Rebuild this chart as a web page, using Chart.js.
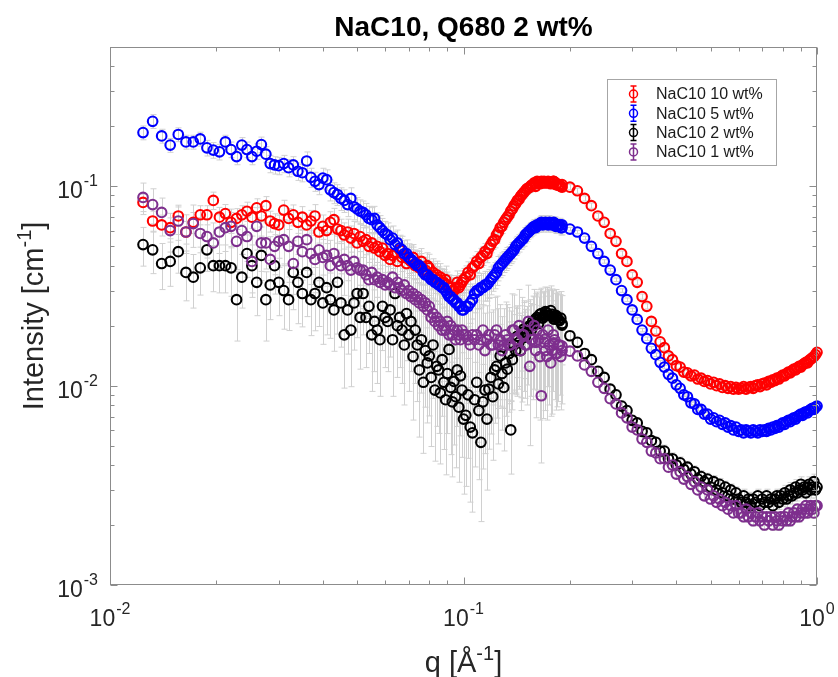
<!DOCTYPE html>
<html>
<head>
<meta charset="utf-8">
<title>NaC10, Q680 2 wt%</title>
<script src="https://cdn.jsdelivr.net/npm/chart.js@4.4.1/dist/chart.umd.min.js"></script>
<style>
  html, body { margin: 0; padding: 0; background: #fff; }
  canvas { display: block; }
</style>
</head>
<body>
<canvas id="saxsChart" width="838" height="677"></canvas>
<script>
const FONT = '"Liberation Sans", Helvetica, Arial, sans-serif';

// q grid [1/A]: low-q setting up to 0.19, then the high-q setting (overlaps at the peak)
const qValues = [
  0.0124, 0.0132, 0.0140, 0.0148, 0.0156, 0.0164, 0.0172, 0.0180, 0.0188, 0.0196,
  0.0204, 0.0212, 0.0220, 0.0228, 0.0236, 0.0244, 0.0252, 0.0260, 0.0268, 0.0276,
  0.0284, 0.0292, 0.0300,
  0.031, 0.032, 0.033, 0.034, 0.035, 0.036, 0.037, 0.038, 0.039, 0.040,
  0.041, 0.042, 0.043, 0.044, 0.045, 0.046, 0.047, 0.048, 0.049, 0.050,
  0.051, 0.052, 0.053, 0.054, 0.055, 0.056, 0.057, 0.058, 0.059, 0.060,
  0.061, 0.062, 0.063, 0.064, 0.065, 0.066, 0.067, 0.068, 0.069, 0.070,
  0.071, 0.072, 0.073, 0.074, 0.075, 0.076, 0.077, 0.078, 0.079, 0.080,
  0.081, 0.082, 0.083, 0.084, 0.085, 0.086, 0.087, 0.088, 0.089, 0.090,
  0.091, 0.092, 0.093, 0.094, 0.095, 0.096, 0.097, 0.098, 0.099, 0.100,
  0.1015, 0.1030, 0.1045, 0.1060, 0.1075, 0.1090, 0.1105, 0.1120, 0.1135, 0.1150,
  0.1165, 0.1180, 0.1195, 0.1210, 0.1225, 0.1240, 0.1255, 0.1270, 0.1285, 0.1300,
  0.1315, 0.1330, 0.1345, 0.1360, 0.1375, 0.1390, 0.1405, 0.1420, 0.1435, 0.1450,
  0.1465, 0.1480, 0.1495, 0.1510, 0.1525, 0.1540, 0.1555, 0.1570, 0.1585, 0.1600,
  0.1615, 0.1630, 0.1645, 0.1660, 0.1675, 0.1690, 0.1705, 0.1720, 0.1735, 0.1750,
  0.1765, 0.1780, 0.1795, 0.1810, 0.1825, 0.1840, 0.1855, 0.1870, 0.1885, 0.1900,
  // high-q setting
  0.16, 0.17, 0.18, 0.19, 0.20, 0.21, 0.22, 0.23, 0.24, 0.25,
  0.26, 0.27, 0.28, 0.29, 0.30, 0.31, 0.32, 0.33, 0.34, 0.35,
  0.36, 0.37, 0.38, 0.39, 0.40, 0.41, 0.42, 0.43, 0.44, 0.45,
  0.46, 0.47, 0.48, 0.49, 0.50, 0.51, 0.52, 0.53, 0.54, 0.55,
  0.56, 0.57, 0.58, 0.59, 0.60,
  0.61, 0.62, 0.63, 0.64, 0.65, 0.66, 0.67, 0.68, 0.69, 0.70,
  0.71, 0.72, 0.73, 0.74, 0.75, 0.76, 0.77, 0.78, 0.79, 0.80,
  0.81, 0.82, 0.83, 0.84, 0.85, 0.86, 0.87, 0.88, 0.89, 0.90,
  0.91, 0.92, 0.93, 0.94, 0.95, 0.96, 0.97, 0.98, 0.99, 1.00
];

// intensity [1/cm], same order as qValues
const int10 = [
  .083, .067, .064, .062, .071, .059, .066, .072, .072, .085,
  .070, .073, .066, .069, .072, .075, .070, .078, .071, .080,
  .067, .065, .064,
  .076, .069, .072, .066, .070, .064, .067, .071, .059, .063,
  .060, .066, .068, .061, .060, .057, .059, .055, .058, .052,
  .056, .053, .054, .050, .052, .049, .050, .047, .049, .045,
  .046, .043, .045, .046, .042, .048, .044, .045, .041, .043,
  .042, .044, .040, .041, .039, .042, .038, .038, .040, .039,
  .036, .037, .035, .036, .034, .035, .033, .033, .034, .032,
  .031, .031, .030, .030, .031, .033, .031, .032, .033, .034,
  .035, .037, .036, .039, .040, .042, .041, .044, .045, .047,
  .046, .049, .051, .053, .054, .057, .059, .062, .063, .066,
  .068, .070, .072, .075, .077, .080, .082, .085, .086, .089,
  .091, .093, .095, .097, .098, .099, .101, .102, .104, .103,
  .106, .105, .103, .106, .104, .106, .105, .104, .106, .105,
  .103, .104, .106, .105, .102, .103, .101, .102, .100, .099,
  .100, .104, .106, .102, .099, .095, .087, .080, .071, .066,
  .058, .053, .046, .042, .036, .033, .028, .025, .021, .0188,
  .0166, .0155, .0141, .0135, .0126, .0124, .0117, .0116, .0112, .0113,
  .0108, .0109, .0105, .0106, .0102, .0104, .0100, .0102, .0098, .0100,
  .0097, .0099, .0096, .0098, .0096,
  .0097, .0099, .0096, .0098, .0099, .0097, .0100, .0101, .0099, .0102,
  .0103, .0101, .0105, .0104, .0107, .0106, .0109, .0108, .0111, .0113,
  .0112, .0115, .0117, .0116, .0119, .0121, .0120, .0123, .0125, .0124,
  .0127, .0129, .0131, .0130, .0134, .0136, .0138, .0140, .0143, .0147
];
const int5 = [
  .186, .212, .179, .161, .182, .167, .167, .173, .156, .152,
  .149, .167, .153, .141, .161, .153, .141, .150, .162, .145,
  .130, .128, .127,
  .130, .124, .128, .119, .117, .134, .111, .106, .102, .110,
  .108, .096, .093, .091, .087, .085, .081, .087, .079, .077,
  .075, .074, .072, .069, .068, .069, .064, .062, .060, .058,
  .057, .054, .055, .051, .052, .049, .048, .046, .046, .044,
  .043, .042, .041, .040, .040, .039, .037, .036, .036, .035,
  .034, .034, .033, .033, .032, .032, .031, .031, .030, .029,
  .028, .028, .027, .027, .026, .026, .025, .025, .024, .024,
  .025, .025, .026, .027, .029, .030, .030, .031, .031, .032,
  .032, .033, .034, .035, .036, .037, .039, .040, .041, .042,
  .043, .044, .045, .046, .047, .048, .050, .051, .052, .053,
  .054, .055, .057, .058, .059, .060, .061, .062, .063, .063,
  .064, .064, .065, .066, .064, .065, .066, .065, .064, .066,
  .065, .064, .065, .065, .063, .064, .063, .064, .062, .062,
  .062, .065, .066, .064, .061, .059, .055, .050, .046, .042,
  .038, .034, .030, .027, .024, .0215, .0190, .0172, .0154, .0143,
  .0131, .0124, .0114, .0109, .0101, .0097, .0090, .0088, .0082, .0081,
  .0076, .0076, .0072, .0072, .0068, .0069, .0066, .0067, .0064, .0065,
  .0062, .0063, .0060, .0062, .0059,
  .0060, .0058, .0060, .0059, .0058, .0060, .0059, .0058, .0060, .0059,
  .0060, .0059, .0061, .0060, .0062, .0061, .0063, .0062, .0064, .0065,
  .0064, .0066, .0067, .0066, .0068, .0069, .0068, .0070, .0071, .0072,
  .0071, .0073, .0074, .0073, .0075, .0076, .0077, .0076, .0078, .0079
];
const int2 = [
  .051, .048, .041, .042, .047, .037, .035, .039, .048, .040,
  .040, .040, .039, .027, .035, .046, .040, .033, .045, .027,
  .032, .040, .033,
  .030, .027, .037, .033, .029, .037, .027, .029, .033, .026,
  .031, .027, .024, .033, .026, .018, .024, .019, .026, .029,
  .022, .029, .022, .025, .018, .021, .019, .017, .025, .022,
  .021, .024, .017, .029, .020, .022, .019, .016, .023, .018,
  .021, .014, .019, .016, .012, .017, .0104, .015, .013, .0141,
  .011, .016, .0095, .0125, .012, .0092, .0135, .0104, .0085, .0115,
  .0152, .0098, .0083, .0105, .0088, .0120, .0078, .0112, .0095, .0068,
  .0071, .0090, .0062, .0058, .0085, .0104, .0075, .0052, .0083, .0095,
  .0068, .0096, .0110, .0088, .0120, .0125, .0102, .0141, .0115, .0098,
  .0130, .0121, .0145, .0060, .0135, .0160, .0150, .0177, .0165, .0150,
  .0185, .0192, .0175, .0185, .0195, .0200, .0190, .0210, .0205, .0216,
  .0220, .0205, .0228, .0230, .0218, .0222, .0235, .0232, .0226, .0225,
  .0238, .0228, .0222, .0216, .0225, .0220, .0214, .0212, .0218, .0205,
  .0215, .0226, .0216, .0201, .0178, .0165, .0145, .0135, .0118, .0110,
  .0096, .0090, .0079, .0075, .0067, .0065, .0059, .0058, .0053, .0052,
  .0047, .0047, .0043, .0043, .0040, .0041, .0038, .0039, .0036, .0037,
  .0034, .0035, .0033, .0034, .0031, .0033, .0030, .0032, .0029, .0031,
  .0028, .0030, .0027, .0029, .0027,
  .0026, .0028, .0026, .0027, .0025, .0027, .0026, .0028, .0025, .0027,
  .0026, .0028, .0026, .0027, .0025, .0027, .0028, .0026, .0028, .0027,
  .0029, .0027, .0028, .0030, .0028, .0029, .0031, .0029, .0030, .0032,
  .0030, .0031, .0029, .0031, .0032, .0030, .0031, .0033, .0030, .0031
];
const int1 = [
  .088, .081, .074, .060, .067, .059, .065, .058, .056, .052,
  .059, .062, .063, .053, .060, .056, .042, .063, .052, .052,
  .043, .050, .053,
  .054, .050, .041, .053, .047, .054, .046, .043, .048, .044,
  .045, .040, .046, .042, .040, .043, .040, .038, .042, .039,
  .038, .038, .036, .034, .037, .034, .035, .033, .034, .032,
  .033, .032, .035, .031, .033, .031, .030, .032, .029, .030,
  .028, .029, .027, .028, .026, .027, .025, .026, .024, .025,
  .022, .023, .021, .022, .020, .021, .019, .020, .019, .021,
  .018, .020, .018, .019, .017, .019, .018, .017, .019, .018,
  .018, .017, .016, .018, .017, .018, .016, .017, .019, .015,
  .017, .018, .016, .016, .018, .019, .016, .017, .015, .016,
  .018, .017, .016, .016, .019, .019, .017, .017, .020, .015,
  .018, .018, .016, .016, .021, .0125, .017, .017, .020, .015,
  .019, .017, .014, .0089, .018, .0165, .015, .014, .019, .016,
  .013, .015, .018, .017, .0145, .0145, .016, .016, .014, .015,
  .0165, .0171, .0164, .0158, .0149, .0141, .0127, .0118, .0104, .0097,
  .0086, .0081, .0073, .0069, .0062, .0060, .0054, .0052, .0047, .0046,
  .0043, .0043, .0039, .0040, .0036, .0037, .0034, .0035, .0032, .0033,
  .0030, .0031, .0028, .0030, .0027, .0028, .0026, .0027, .0025, .0026,
  .0024, .0025, .0023, .0025, .0023,
  .0023, .0022, .0024, .0022, .0023, .0021, .0022, .0023, .0021, .0022,
  .0020, .0022, .0021, .0022, .0020, .0022, .0021, .0020, .0022, .0021,
  .0022, .0021, .0023, .0021, .0022, .0023, .0022, .0024, .0022, .0023,
  .0024, .0023, .0025, .0023, .0024, .0025, .0024, .0023, .0025, .0025
];

// relative errors in %, same order as qValues
const err10 = [
  10, 12, 12, 12, 11, 13, 12, 11, 11, 10,
  12, 11, 12, 12, 11, 11, 12, 11, 12, 11,
  12, 12, 12,
  12, 12, 12, 12, 13, 12, 13, 14, 12, 14,
  14, 13, 14, 15, 14, 15, 16, 15, 15, 16,
  16, 17, 16, 17, 17, 18, 17, 18, 18, 18,
  14, 13, 14, 13, 14, 14, 15, 14, 15, 15,
  15, 16, 15, 16, 16, 16, 15, 16, 16, 17,
  16, 17, 17, 17, 16, 17, 17, 16, 17, 16,
  16, 15, 16, 15, 15, 14, 15, 14, 14, 14,
  14, 13, 13, 12, 12, 12, 11, 11, 11, 10,
  10, 10, 9, 9, 9, 9, 8, 8, 8, 8,
  8, 7, 7, 7, 7, 7, 7, 6, 6, 6,
  6, 6, 6, 6, 6, 6, 5, 5, 5, 5,
  5, 5, 5, 5, 5, 5, 5, 5, 5, 5,
  5, 5, 5, 5, 5, 5, 5, 5, 5, 5,
  3, 3, 3, 3, 3, 3, 3, 3, 3, 3,
  3, 3, 3, 3, 3, 3, 3, 3, 3, 3,
  3, 3, 3, 3, 3, 3, 3, 3, 3, 3,
  3, 3, 3, 3, 3, 3, 3, 3, 3, 3,
  3, 3, 3, 3, 3,
  4, 4, 4, 4, 4, 4, 4, 4, 4, 4,
  4, 4, 4, 4, 4, 4, 4, 4, 4, 4,
  4, 4, 4, 4, 4, 4, 4, 4, 4, 4,
  4, 4, 4, 4, 4, 4, 4, 4, 4, 4
];
const err5 = [
  8, 8, 8, 8, 8, 8, 8, 8, 9, 9,
  9, 8, 9, 9, 9, 9, 9, 9, 9, 9,
  10, 10, 10,
  10, 10, 10, 10, 10, 11, 11, 11, 11, 12,
  12, 12, 12, 12, 13, 13, 13, 13, 14, 14,
  14, 14, 14, 15, 15, 15, 15, 15, 15, 15,
  15, 16, 15, 16, 16, 16, 17, 16, 17, 17,
  17, 18, 17, 18, 18, 18, 19, 18, 19, 19,
  19, 20, 19, 20, 20, 20, 21, 20, 21, 21,
  21, 22, 21, 22, 22, 22, 22, 22, 22, 22,
  22, 21, 21, 20, 20, 19, 19, 18, 18, 17,
  17, 16, 16, 15, 15, 14, 14, 13, 13, 12,
  12, 12, 11, 11, 11, 10, 10, 10, 10, 9,
  9, 9, 9, 9, 8, 8, 8, 8, 8, 8,
  8, 8, 8, 8, 8, 8, 8, 8, 8, 8,
  8, 8, 8, 8, 8, 8, 8, 8, 8, 8,
  2, 2, 2, 2, 2, 2, 2, 2, 2, 2,
  2, 2, 2, 2, 2, 2, 2, 2, 2, 2,
  2, 2, 2, 2, 2, 2, 2, 2, 2, 2,
  2, 2, 2, 2, 2, 2, 2, 2, 2, 2,
  2, 2, 2, 2, 2,
  3, 3, 3, 3, 3, 3, 3, 3, 3, 3,
  3, 3, 3, 3, 3, 3, 3, 3, 3, 3,
  3, 3, 3, 3, 3, 3, 3, 3, 3, 3,
  3, 3, 3, 3, 3, 3, 3, 3, 3, 3
];
const err2 = [
  22, 24, 26, 25, 22, 28, 30, 27, 22, 26,
  27, 27, 28, 38, 30, 24, 27, 32, 25, 38,
  33, 28, 32,
  36, 30, 35, 38, 32, 40, 34, 35, 40, 38,
  42, 36, 38, 45, 40, 46, 40, 48, 42, 40,
  45, 38, 44, 42, 48, 44, 46, 48, 40, 44,
  44, 42, 48, 38, 45, 44, 46, 50, 42, 48,
  44, 52, 46, 48, 54, 46, 56, 48, 50, 50,
  55, 46, 56, 50, 52, 56, 48, 54, 58, 50,
  44, 54, 58, 52, 56, 48, 58, 50, 54, 58,
  56, 52, 58, 60, 54, 50, 55, 60, 54, 52,
  56, 50, 48, 52, 46, 45, 50, 44, 48, 52,
  46, 48, 44, 40, 44, 42, 40, 38, 40, 42,
  36, 36, 38, 35, 36, 35, 36, 34, 36, 34,
  34, 36, 33, 34, 35, 34, 33, 34, 35, 34,
  33, 34, 35, 34, 35, 34, 36, 35, 36, 38,
  6, 6, 6, 6, 6, 6, 6, 6, 6, 6,
  6, 6, 6, 6, 6, 6, 6, 6, 6, 6,
  7, 7, 7, 7, 7, 7, 7, 7, 7, 7,
  7, 7, 7, 7, 7, 7, 7, 7, 7, 7,
  7, 7, 7, 7, 7,
  8, 8, 8, 8, 8, 8, 8, 8, 8, 8,
  8, 8, 8, 8, 8, 8, 8, 8, 8, 8,
  9, 9, 9, 9, 9, 9, 9, 9, 9, 9,
  9, 9, 9, 9, 9, 9, 9, 9, 9, 9
];
const err1 = [
  18, 20, 18, 22, 20, 22, 24, 20, 22, 26,
  22, 24, 22, 28, 24, 25, 34, 24, 28, 26,
  30, 28, 26,
  26, 34, 30, 32, 28, 30, 30, 32, 30, 32,
  30, 34, 32, 34, 32, 34, 36, 34, 36, 36,
  34, 36, 38, 36, 36, 38, 36, 38, 38, 36,
  36, 34, 38, 36, 38, 40, 38, 40, 42, 40,
  42, 40, 44, 42, 44, 42, 46, 44, 46, 44,
  46, 48, 46, 48, 48, 50, 48, 50, 48, 50,
  48, 50, 52, 50, 52, 50, 52, 54, 52, 50,
  50, 52, 48, 50, 54, 48, 52, 46, 50, 54,
  48, 52, 46, 50, 54, 48, 52, 50, 48, 52,
  46, 50, 54, 48, 52, 50, 46, 48, 52, 50,
  54, 48, 46, 50, 52, 60, 48, 50, 52, 54,
  50, 48, 52, 54, 62, 48, 50, 52, 48, 50,
  46, 52, 48, 50, 48, 46, 48, 44, 46, 46,
  5, 5, 5, 5, 5, 5, 5, 5, 5, 5,
  5, 5, 5, 5, 5, 5, 5, 5, 5, 5,
  5, 5, 5, 5, 5, 5, 5, 5, 5, 5,
  5, 5, 5, 5, 5, 5, 5, 5, 5, 5,
  5, 5, 5, 5, 5,
  6, 6, 6, 6, 6, 6, 6, 6, 6, 6,
  6, 6, 6, 6, 6, 6, 6, 6, 6, 6,
  6, 6, 6, 6, 6, 6, 6, 6, 6, 6,
  6, 6, 6, 6, 6, 6, 6, 6, 6, 6
];

const seriesNames = ["NaC10 10 wt%", "NaC10 5 wt%", "NaC10 2 wt%", "NaC10 1 wt%"];
const seriesColors = ["#ff0000", "#0000ff", "#000000", "#7e2f8e"];
const seriesInt = [int10, int5, int2, int1];
const seriesErr = [err10, err5, err2, err1];

const xTickExp = [-2, -1, 0];
const yTickExp = [-3, -2, -1];

function toPoints(vals, errs) {
  return qValues.map((q, i) => ({ x: q, y: vals[i], err: vals[i] * errs[i] / 100 }));
}

// "10" with a raised exponent
function drawPower(ctx, exp, x, baseline, align) {
  const base = "10", sup = String(exp);
  ctx.font = `23px ${FONT}`;
  const wb = ctx.measureText(base).width;
  ctx.font = `16px ${FONT}`;
  const ws = ctx.measureText(sup).width;
  const left = align === "right" ? x - wb - ws - 1 : x - (wb + ws + 1) / 2;
  ctx.textAlign = "left";
  ctx.textBaseline = "alphabetic";
  ctx.font = `23px ${FONT}`;
  ctx.fillText(base, left, baseline);
  ctx.font = `16px ${FONT}`;
  ctx.fillText(sup, left + wb + 1, baseline - 12);
}

// text with a superscript part, centred on x
function supText(ctx, pre, sup, post, size) {
  ctx.font = `${size}px ${FONT}`;
  const w1 = ctx.measureText(pre).width, w3 = ctx.measureText(post).width;
  ctx.font = `${Math.round(size * 0.68)}px ${FONT}`;
  const w2 = ctx.measureText(sup).width;
  let x = -(w1 + w2 + w3) / 2;
  ctx.textAlign = "left";
  ctx.font = `${size}px ${FONT}`;
  ctx.fillText(pre, x, 0);
  x += w1;
  ctx.font = `${Math.round(size * 0.68)}px ${FONT}`;
  ctx.fillText(sup, x, -Math.round(size * 0.42));
  x += w2;
  ctx.font = `${size}px ${FONT}`;
  ctx.fillText(post, x, 0);
}

// grey vertical error bars under all markers
const errorBars = {
  id: "errorBars",
  beforeDatasetsDraw(chart) {
    const { ctx, chartArea: a, scales: { x, y } } = chart;
    ctx.save();
    ctx.beginPath();
    ctx.rect(a.left, a.top, a.width, a.height);
    ctx.clip();
    ctx.strokeStyle = "#d0d0d0";
    ctx.lineWidth = 1;
    chart.data.datasets.forEach(ds => {
      ds.data.forEach(p => {
        const px = Math.round(x.getPixelForValue(p.x)) + 0.5;
        const hi = y.getPixelForValue(p.y + p.err);
        const lo = p.y - p.err > 0 ? y.getPixelForValue(p.y - p.err) : a.bottom;
        ctx.beginPath();
        ctx.moveTo(px, hi); ctx.lineTo(px, lo);
        ctx.moveTo(px - 3, hi); ctx.lineTo(px + 3, hi);
        ctx.moveTo(px - 3, lo); ctx.lineTo(px + 3, lo);
        ctx.stroke();
      });
    });
    ctx.restore();
  }
};

// box, inward log ticks, labels and title
const axesFrame = {
  id: "axesFrame",
  afterDatasetsDraw(chart) {
    const { ctx, chartArea: a, scales: { x, y } } = chart;
    ctx.save();
    ctx.strokeStyle = "#8c8c8c";
    ctx.lineWidth = 1;
    const L = Math.round(a.left) + 0.5, R = Math.round(a.right) - 0.5;
    const T = Math.round(a.top) + 0.5, B = Math.round(a.bottom) - 0.5;
    ctx.strokeRect(L, T, R - L, B - T);

    ctx.beginPath();
    for (let e = -2; e <= 0; e++) {
      for (let k = 1; k <= 9; k++) {
        const v = k * Math.pow(10, e);
        if (v < x.min || v > x.max) continue;
        const len = k === 1 ? 7 : 4;
        const px = Math.round(x.getPixelForValue(v)) + 0.5;
        ctx.moveTo(px, B); ctx.lineTo(px, B - len);
        ctx.moveTo(px, T); ctx.lineTo(px, T + len);
      }
    }
    for (let e = -3; e <= -1; e++) {
      for (let k = 1; k <= 9; k++) {
        const v = k * Math.pow(10, e);
        if (v < y.min || v > y.max) continue;
        const len = k === 1 ? 7 : 4;
        const py = Math.round(y.getPixelForValue(v)) + 0.5;
        ctx.moveTo(L, py); ctx.lineTo(L + len, py);
        ctx.moveTo(R, py); ctx.lineTo(R - len, py);
      }
    }
    ctx.stroke();

    ctx.fillStyle = "#262626";
    xTickExp.forEach(e => drawPower(ctx, e, x.getPixelForValue(Math.pow(10, e)), a.bottom + 41, "center"));
    yTickExp.forEach(e => drawPower(ctx, e, a.left - 12, y.getPixelForValue(Math.pow(10, e)) + 12, "right"));

    ctx.save();
    ctx.translate((a.left + a.right) / 2, a.bottom + 87);
    supText(ctx, "q [\u00c5", "-1", "]", 29);
    ctx.restore();

    ctx.save();
    ctx.translate(43, (a.top + a.bottom) / 2);
    ctx.rotate(-Math.PI / 2);
    supText(ctx, "Intensity [cm", "-1", "]", 29);
    ctx.restore();

    ctx.fillStyle = "#000";
    ctx.font = `bold 28px ${FONT}`;
    ctx.textAlign = "center";
    ctx.fillText("NaC10, Q680 2 wt%", (a.left + a.right) / 2, 36);
    ctx.restore();
  }
};

// boxed legend with error-bar glyphs
const boxLegend = {
  id: "boxLegend",
  afterDraw(chart) {
    const { ctx, chartArea: a } = chart;
    const left = Math.round(a.right) - 210, top = Math.round(a.top) + 32;
    ctx.save();
    ctx.fillStyle = "#fff";
    ctx.fillRect(left, top, 169, 86);
    ctx.strokeStyle = "#a6a6a6";
    ctx.lineWidth = 1;
    ctx.strokeRect(left + 0.5, top + 0.5, 169, 86);
    chart.data.datasets.forEach((ds, k) => {
      const cy = top + 15 + k * 19.3;
      const gx = left + 26.5;
      ctx.strokeStyle = ds.borderColor;
      ctx.lineWidth = 1.5;
      ctx.beginPath();
      ctx.moveTo(gx, cy - 8); ctx.lineTo(gx, cy + 8);
      ctx.moveTo(gx - 3, cy - 8); ctx.lineTo(gx + 3, cy - 8);
      ctx.moveTo(gx - 3, cy + 8); ctx.lineTo(gx + 3, cy + 8);
      ctx.stroke();
      ctx.beginPath();
      ctx.arc(gx, cy, 4, 0, Math.PI * 2);
      ctx.stroke();
      ctx.fillStyle = "#1a1a1a";
      ctx.font = `16px ${FONT}`;
      ctx.textAlign = "left";
      ctx.textBaseline = "middle";
      ctx.fillText(ds.label, left + 49, cy + 1);
    });
    ctx.restore();
  }
};

new Chart(document.getElementById("saxsChart"), {
  type: "scatter",
  data: {
    datasets: seriesNames.map((name, k) => ({
      label: name,
      data: toPoints(seriesInt[k], seriesErr[k]),
      borderColor: seriesColors[k],
      backgroundColor: "rgba(0,0,0,0)",
      pointStyle: "circle",
      pointRadius: 4.8,
      pointHoverRadius: 4.8,
      pointBorderWidth: 2.1,
      order: seriesNames.length - k,
      clip: false
    }))
  },
  options: {
    responsive: false,
    animation: false,
    devicePixelRatio: 1,
    events: [],
    layout: { padding: { top: 47, right: 21, bottom: 0, left: 0 } },
    scales: {
      x: {
        type: "logarithmic", min: 0.01, max: 1,
        grid: { display: false }, border: { display: false }, ticks: { display: false },
        afterFit: s => { s.height = 92; }
      },
      y: {
        type: "logarithmic", min: 0.001, max: 0.5,
        grid: { display: false }, border: { display: false }, ticks: { display: false },
        afterFit: s => { s.width = 110; }
      }
    },
    plugins: { legend: { display: false }, tooltip: { enabled: false }, title: { display: false } }
  },
  plugins: [errorBars, axesFrame, boxLegend]
});
</script>
</body>
</html>
